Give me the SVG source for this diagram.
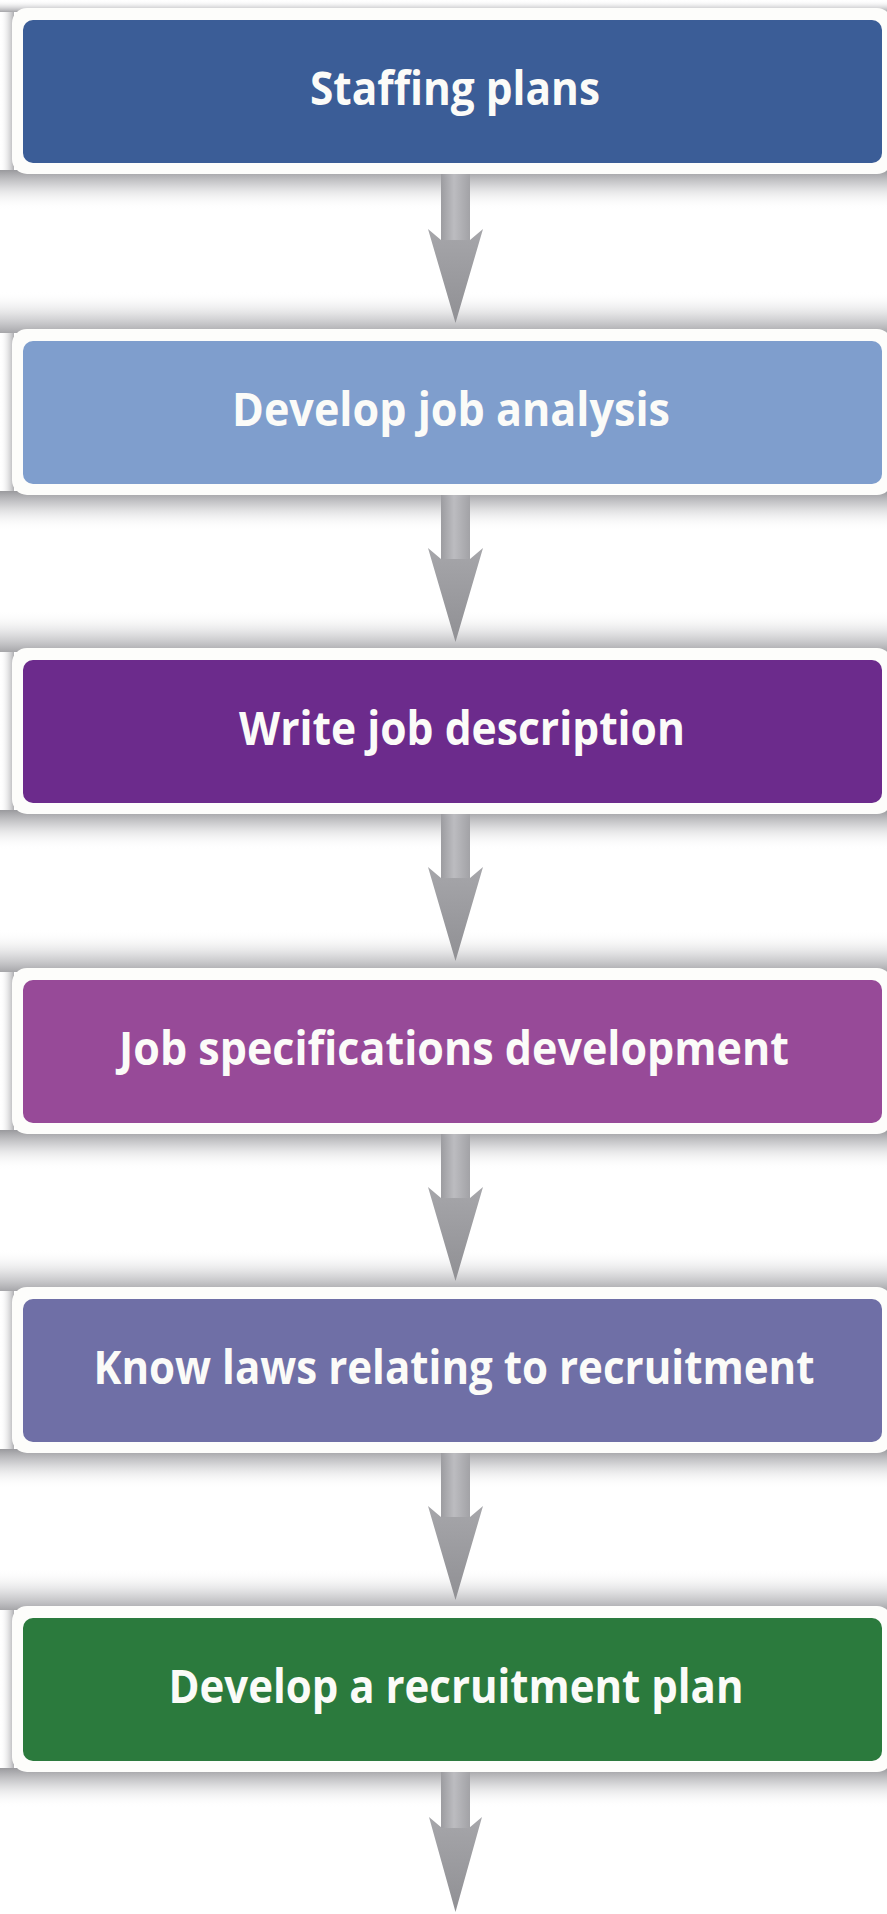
<svg xmlns="http://www.w3.org/2000/svg" width="887" height="1914" viewBox="0 0 887 1914">
  <defs>
    <linearGradient id="shBelow" x1="0" y1="0" x2="0" y2="1">
      <stop offset="0" stop-color="#8e8e92" stop-opacity="0.9"/>
      <stop offset="0.35" stop-color="#a8a8ac" stop-opacity="0.55"/>
      <stop offset="1" stop-color="#ffffff" stop-opacity="0"/>
    </linearGradient>
    <linearGradient id="shAbove" x1="0" y1="1" x2="0" y2="0">
      <stop offset="0" stop-color="#96969a" stop-opacity="0.85"/>
      <stop offset="0.4" stop-color="#b0b0b4" stop-opacity="0.45"/>
      <stop offset="1" stop-color="#ffffff" stop-opacity="0"/>
    </linearGradient>
    <linearGradient id="shLeft" x1="1" y1="0" x2="0" y2="0">
      <stop offset="0" stop-color="#9a9a9e" stop-opacity="0.8"/>
      <stop offset="1" stop-color="#ffffff" stop-opacity="0"/>
    </linearGradient>
    <linearGradient id="shaft" x1="0" y1="0" x2="1" y2="0">
      <stop offset="0" stop-color="#9c9ca0"/>
      <stop offset="0.45" stop-color="#bcbcc0"/>
      <stop offset="1" stop-color="#a2a2a6"/>
    </linearGradient>
    <linearGradient id="head" x1="0" y1="0" x2="0" y2="1">
      <stop offset="0" stop-color="#a6a6aa"/>
      <stop offset="1" stop-color="#909094"/>
    </linearGradient>
    <style>
      .below { fill: url(#shBelow); }
      .above { fill: url(#shAbove); }
      .left { fill: url(#shLeft); }
      .frame { fill: #fdfdfb; }
      .label { font-family: "Open Sans", "Liberation Sans", sans-serif; font-weight: 700; font-size: 46px; fill: #fbfbf8; text-anchor: middle; }
      .shaft { fill: url(#shaft); }
      .head { fill: url(#head); }
    </style>
  </defs>
  <rect width="887" height="1914" fill="#ffffff"/>

  <g id="node-staffing-plans">
    <rect class="above" x="0" y="0" width="887" height="12"/>
    <rect class="below" x="0" y="170" width="887" height="40"/>
    <rect class="left" x="0" y="12" width="14" height="158"/>
    <rect class="frame" x="12" y="8" width="880" height="166" rx="15"/>
    <rect x="23" y="20" width="859" height="143" rx="10" fill="#3b5d97"/>
    <text class="label" x="455" y="105" textLength="290" lengthAdjust="spacingAndGlyphs">Staffing plans</text>
  </g>

  <g id="node-develop-job-analysis">
    <rect class="above" x="0" y="291" width="887" height="42"/>
    <rect class="below" x="0" y="491" width="887" height="40"/>
    <rect class="left" x="0" y="333" width="14" height="158"/>
    <rect class="frame" x="12" y="329" width="880" height="166" rx="15"/>
    <rect x="23" y="341" width="859" height="143" rx="10" fill="#7f9ecd"/>
    <text class="label" x="451" y="426" textLength="438" lengthAdjust="spacingAndGlyphs">Develop job analysis</text>
  </g>

  <g id="node-write-job-description">
    <rect class="above" x="0" y="610" width="887" height="42"/>
    <rect class="below" x="0" y="810" width="887" height="40"/>
    <rect class="left" x="0" y="652" width="14" height="158"/>
    <rect class="frame" x="12" y="648" width="880" height="166" rx="15"/>
    <rect x="23" y="660" width="859" height="143" rx="10" fill="#6c2b8c"/>
    <text class="label" x="462" y="745" textLength="446" lengthAdjust="spacingAndGlyphs">Write job description</text>
  </g>

  <g id="node-job-specifications">
    <rect class="above" x="0" y="930" width="887" height="42"/>
    <rect class="below" x="0" y="1130" width="887" height="40"/>
    <rect class="left" x="0" y="972" width="14" height="158"/>
    <rect class="frame" x="12" y="968" width="880" height="166" rx="15"/>
    <rect x="23" y="980" width="859" height="143" rx="10" fill="#974a98"/>
    <text class="label" x="454" y="1065" textLength="670" lengthAdjust="spacingAndGlyphs">Job specifications development</text>
  </g>

  <g id="node-know-laws">
    <rect class="above" x="0" y="1249" width="887" height="42"/>
    <rect class="below" x="0" y="1449" width="887" height="40"/>
    <rect class="left" x="0" y="1291" width="14" height="158"/>
    <rect class="frame" x="12" y="1287" width="880" height="166" rx="15"/>
    <rect x="23" y="1299" width="859" height="143" rx="10" fill="#6f6fa6"/>
    <text class="label" x="454" y="1384" textLength="721" lengthAdjust="spacingAndGlyphs">Know laws relating to recruitment</text>
  </g>

  <g id="node-recruitment-plan">
    <rect class="above" x="0" y="1568" width="887" height="42"/>
    <rect class="below" x="0" y="1768" width="887" height="40"/>
    <rect class="left" x="0" y="1610" width="14" height="158"/>
    <rect class="frame" x="12" y="1606" width="880" height="166" rx="15"/>
    <rect x="23" y="1618" width="859" height="143" rx="10" fill="#2b7a3d"/>
    <text class="label" x="456" y="1703" textLength="575" lengthAdjust="spacingAndGlyphs">Develop a recruitment plan</text>
  </g>

  <g id="connectors">
    <g id="arrow-1">
      <rect class="shaft" x="441" y="174" width="29" height="70"/>
      <path class="head" d="M428,229 L441,240 L470,240 L483,229 L455.5,323 Z"/>
    </g>
    <g id="arrow-2">
      <rect class="shaft" x="441" y="495" width="29" height="68"/>
      <path class="head" d="M428,548 L441,559 L470,559 L483,548 L455.5,642 Z"/>
    </g>
    <g id="arrow-3">
      <rect class="shaft" x="441" y="814" width="29" height="68"/>
      <path class="head" d="M428,867 L441,878 L470,878 L483,867 L455.5,961 Z"/>
    </g>
    <g id="arrow-4">
      <rect class="shaft" x="441" y="1134" width="29" height="68"/>
      <path class="head" d="M428,1187 L441,1198 L470,1198 L483,1187 L455.5,1281 Z"/>
    </g>
    <g id="arrow-5">
      <rect class="shaft" x="441" y="1453" width="29" height="68"/>
      <path class="head" d="M428,1506 L441,1517 L470,1517 L483,1506 L455.5,1600 Z"/>
    </g>
    <g id="arrow-6">
      <rect class="shaft" x="441" y="1772" width="29" height="60"/>
      <path class="head" d="M429,1817 L442,1828 L469,1828 L482,1817 L455.5,1912 Z"/>
    </g>
  </g>
</svg>
